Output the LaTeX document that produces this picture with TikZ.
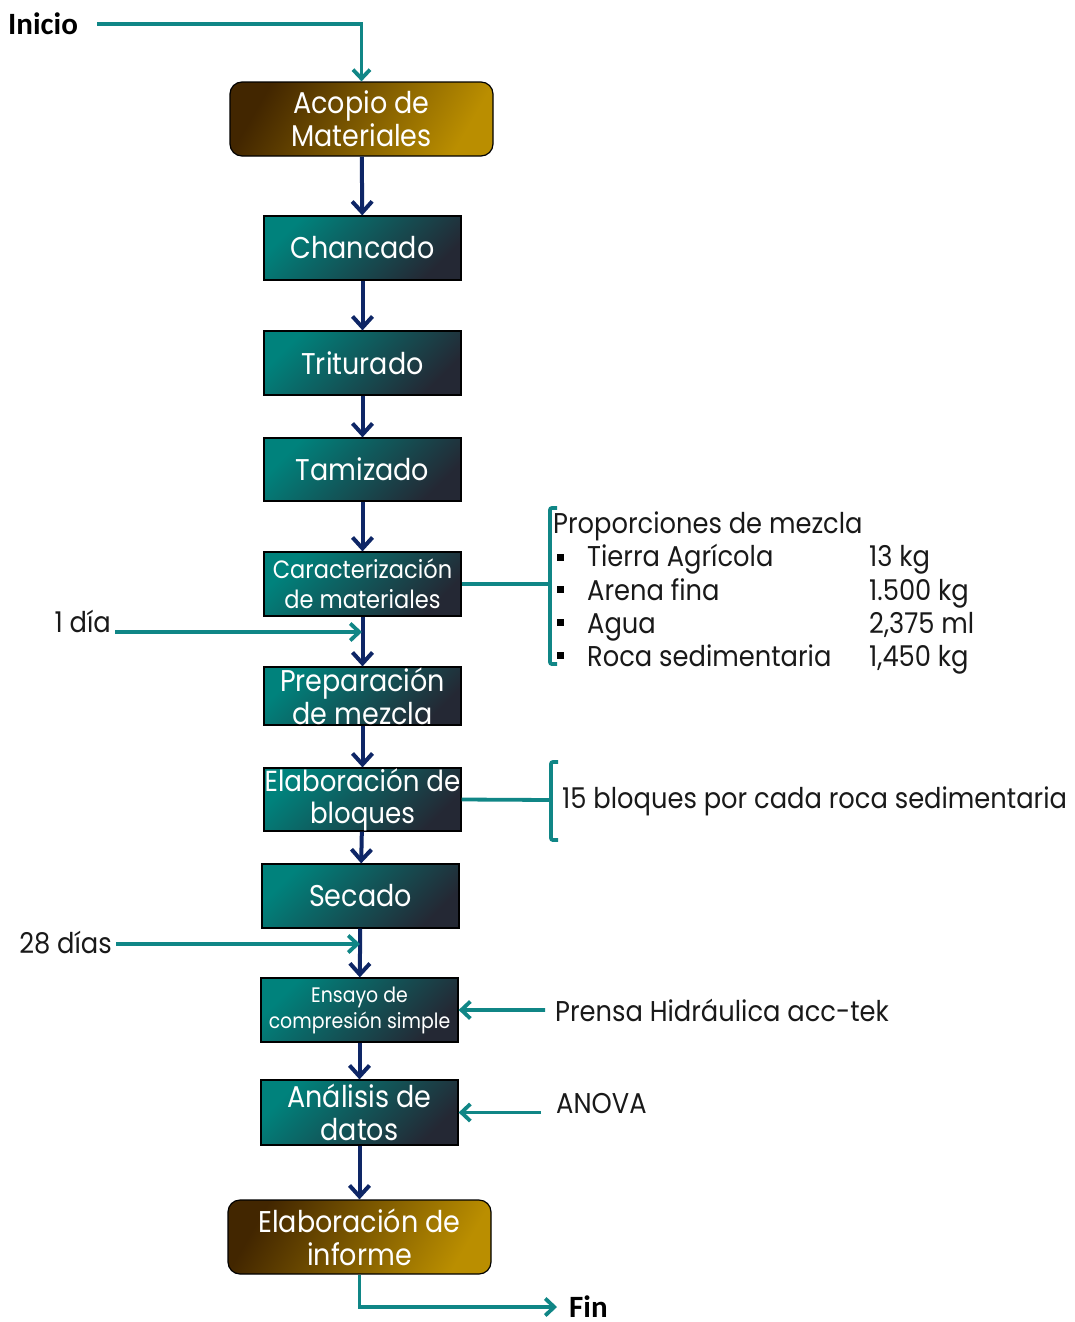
\documentclass[tikz,border=0pt]{standalone}
\usepackage{fontspec}
\setmainfont[FakeStretch=0.9]{Poppins}
\newfontfamily\endfont{Carlito}
\usetikzlibrary{arrows.meta}

\definecolor{lineteal}{RGB}{16,134,134}
\definecolor{flownavy}{RGB}{14,38,102}
\definecolor{boxteal}{RGB}{0,130,124}
\definecolor{boxdark}{RGB}{36,40,52}
\definecolor{boxbrown}{RGB}{66,38,0}
\definecolor{boxgold}{RGB}{186,142,0}

\begin{document}
\begin{tikzpicture}[x=1pt,y=-1pt,
  procbox/.style={draw=black, line width=1.2pt, top color=boxteal, bottom color=boxdark, shading angle=45,
    text=white, align=center, inner sep=0pt, minimum width=197pt, minimum height=64pt,
    font=\fontsize{30}{33}\selectfont},
  endbox/.style={procbox, rounded corners=12pt, top color=boxbrown, bottom color=boxgold, shading angle=60,
    minimum width=263pt, minimum height=74pt},
  flow/.style={draw=flownavy, line width=4pt, -{Straight Barb[length=11pt,width=20pt]}},
  feed/.style={draw=lineteal, line width=3.8pt, -{Straight Barb[length=9pt,width=17pt]}},
  feedline/.style={draw=lineteal, line width=3.8pt},
  bracket/.style={draw=lineteal, line width=3.8pt, rounded corners=2pt},
  sidetxt/.style={inner sep=0pt, text=black!90, font=\fontsize{28.6}{32}\selectfont},
  endtxt/.style={inner sep=0pt, font=\endfont\bfseries\fontsize{31}{34}\selectfont},
  bullet/.style={fill=black, inner sep=0pt, minimum size=7pt}]

\useasboundingbox (0,0) rectangle (1074,1322);

% process column
\node[endbox] (acopio) at (361.5,119) {Acopio de\\Materiales};
\node[procbox] (chancado) at (362.5,248) {Chancado};
\node[procbox] (triturado) at (362.5,363) {Triturado};
\node[procbox, minimum height=63pt] (tamizado) at (362.5,469.5) {Tamizado};
\node[procbox, font=\fontsize{25}{30}\selectfont] (caract) at (362.5,584) {Caracterización\\de materiales};
\node[procbox, minimum height=58pt] (prep) at (362.5,696) {Preparación\\de mezcla};
\node[procbox, minimum height=63pt, font=\fontsize{29}{32}\selectfont] (elab) at (362.5,799.5) {Elaboración de\\bloques};
\node[procbox] (secado) at (360.5,896) {Secado};
\node[procbox, font=\fontsize{21}{26}\selectfont] (ensayo) at (359.5,1010) {Ensayo de\\compresión simple};
\node[procbox, minimum height=65pt] (analisis) at (359.5,1112.5) {Análisis de\\datos};
\node[endbox] (informe) at (359.5,1237) {Elaboración de\\informe};

\draw[flow] (acopio) -- (chancado);
\draw[flow] (chancado) -- (triturado);
\draw[flow] (triturado) -- (tamizado);
\draw[flow] (tamizado) -- (caract);
\draw[flow] (caract) -- (prep);
\draw[flow] (prep) -- (elab);
\draw[flow] (elab) -- (secado);
\draw[flow] (secado) -- (ensayo);
\draw[flow] (ensayo) -- (analisis);
\draw[flow] (analisis) -- (informe);

% start and end
\node[endtxt, anchor=west] (inicio) at (8,24) {Inicio};
\node[endtxt, anchor=west, inner xsep=12pt] (fin) at (557,1307) {Fin};
\draw[feed] ([xshift=19pt]inicio.east) -| (acopio.north);
\draw[feed] (informe.south) |- (fin.west);

% times
\coordinate (mix1) at (362,632);
\coordinate (mix2) at (360,944);
\node[sidetxt, anchor=base east, inner xsep=4pt] (dia1) at (115,632) {1 día};
\node[sidetxt, anchor=base east, inner xsep=4pt] (dias28) at (116,953) {28 días};
\draw[feed] (dia1.east |- mix1) -- (mix1);
\draw[feed] (dias28.east |- mix2) -- (mix2);

% mix proportions
\coordinate (brk1) at (550,584);
\draw[bracket] (557,508) -- (550,508) -- (550,664) -- (557,664);
\draw[feedline] (caract.east) -- (brk1);
\node[sidetxt, anchor=base west] (prop) at (553,533) {Proporciones de mezcla};
\node[bullet] (b1) at (560,557) {};
\node[bullet] (b2) at (560,589) {};
\node[bullet] (b3) at (560,622) {};
\node[bullet] (b4) at (560,655) {};
\node[sidetxt, anchor=base west] (m1) at (587,566) {Tierra Agrícola};
\node[sidetxt, anchor=base west] (m2) at (587,600) {Arena fina};
\node[sidetxt, anchor=base west] (m3) at (587,633) {Agua};
\node[sidetxt, anchor=base west] (m4) at (587,666) {Roca sedimentaria};
\node[sidetxt, anchor=base west] (v1) at (869,566) {13 kg};
\node[sidetxt, anchor=base west] (v2) at (869,600) {1.500 kg};
\node[sidetxt, anchor=base west] (v3) at (869,633) {2,375 ml};
\node[sidetxt, anchor=base west] (v4) at (869,666) {1,450 kg};

% blocks
\coordinate (brk2) at (551,800);
\draw[bracket] (558,762) -- (551,762) -- (551,840) -- (558,840);
\draw[feedline] (elab.east) -- (brk2);
\node[sidetxt, anchor=base west] (bloques) at (562,808) {15 bloques por cada roca sedimentaria};

% equipment and analysis
\node[sidetxt, anchor=base west, inner xsep=10pt] (prensa) at (545,1021) {Prensa Hidráulica acc-tek};
\node[sidetxt, anchor=base west, inner xsep=15pt] (anova) at (541,1113) {ANOVA};
\draw[feed] (prensa.west) -- (ensayo.east);
\draw[feed] (anova.west |- analisis.east) -- (analisis.east);

\end{tikzpicture}
\end{document}
